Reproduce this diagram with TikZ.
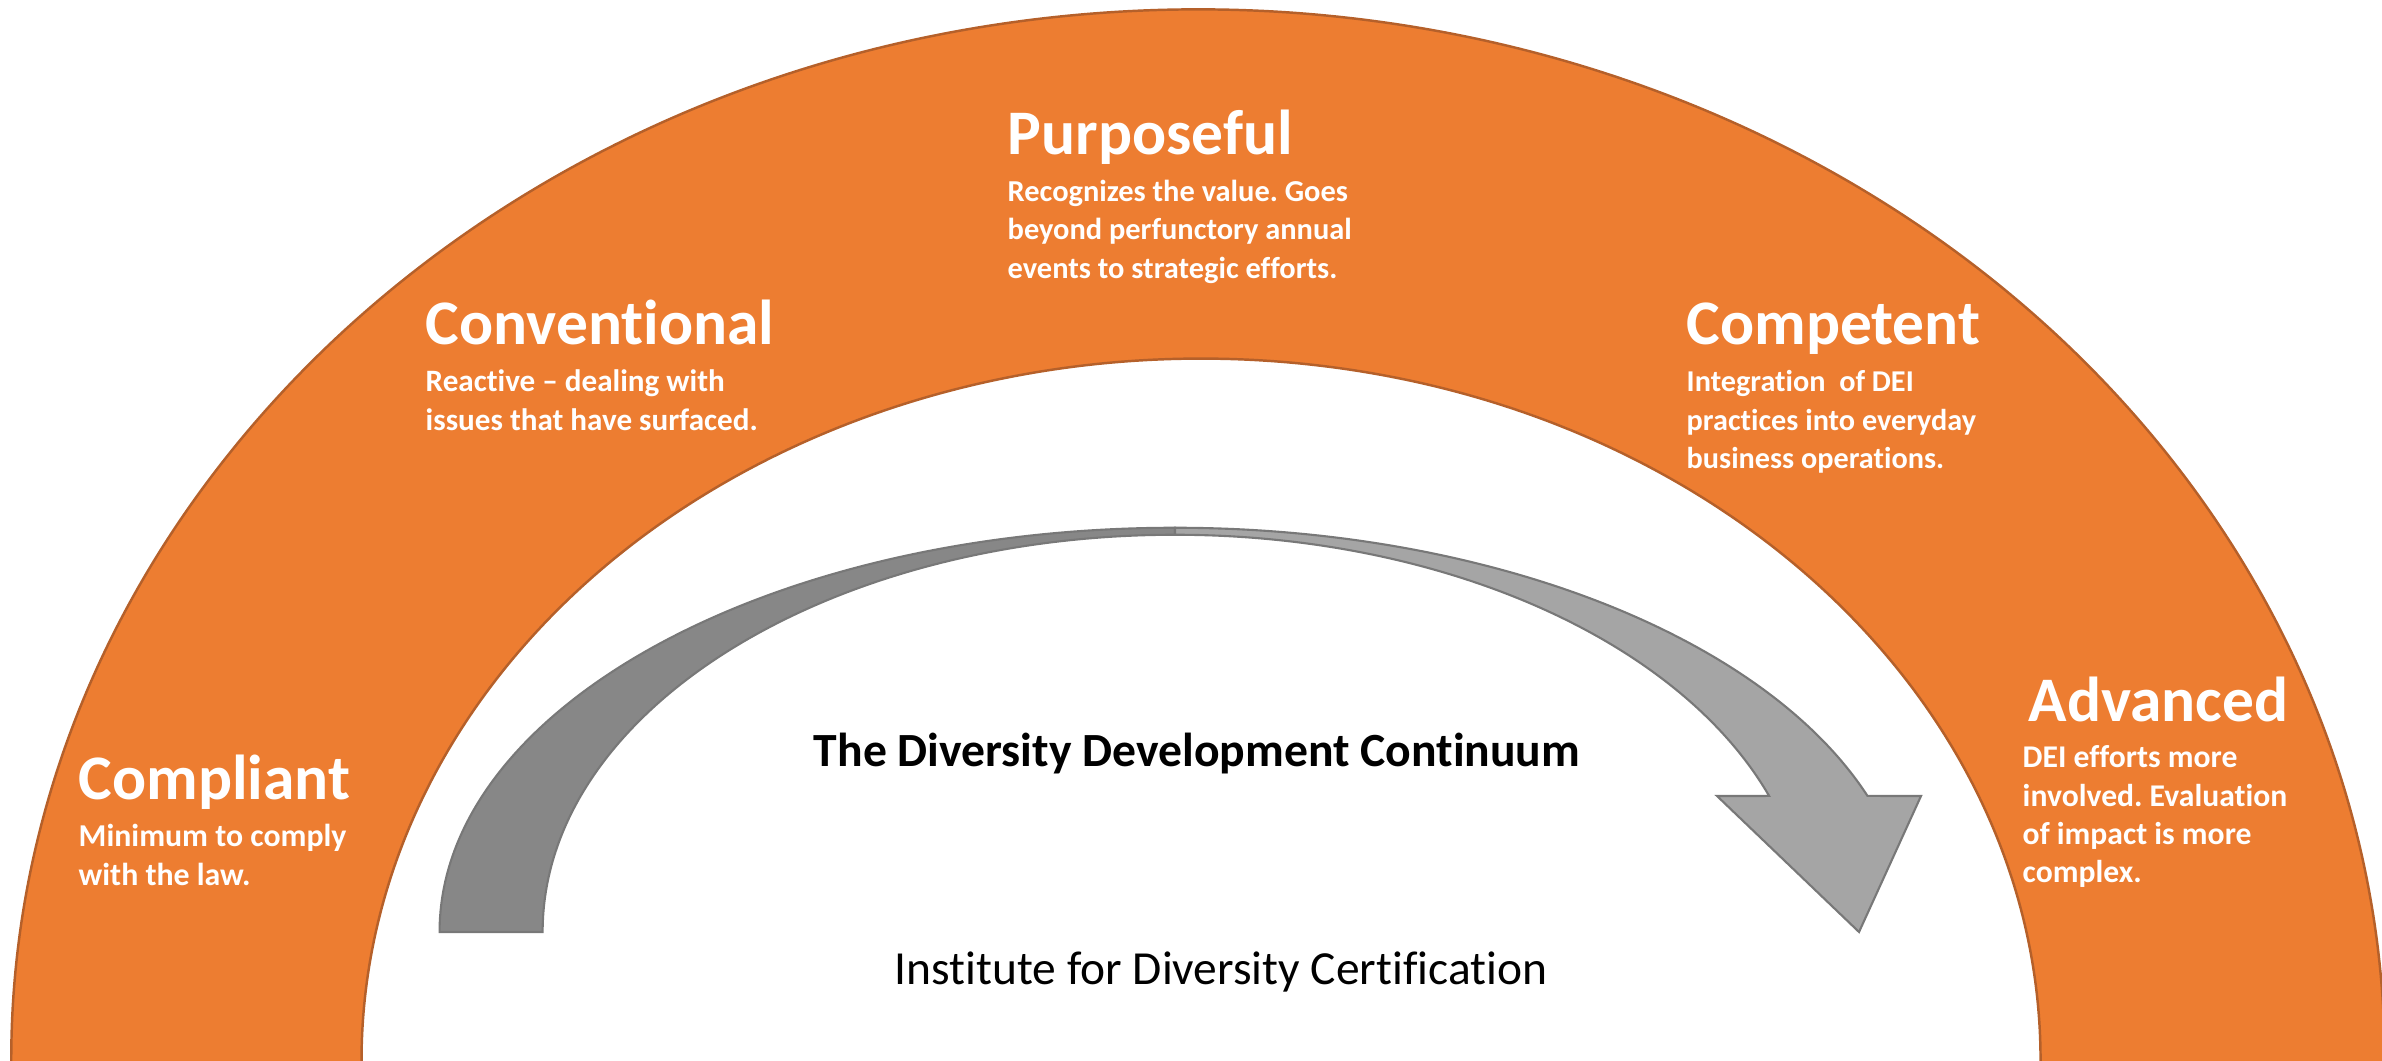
\documentclass[tikz,border=0pt]{standalone}
\usepackage{fontspec}
\setmainfont{Carlito}[Ligatures={NoCommon}]
\usetikzlibrary{calc}
\frenchspacing

\definecolor{bandorange}{HTML}{ED7D31}
\definecolor{bandedge}{HTML}{B5602A}
\definecolor{arrowdark}{HTML}{878787}
\definecolor{arrowlight}{HTML}{A5A5A5}
\definecolor{arrowedge}{HTML}{787878}

\begin{document}
\begin{tikzpicture}[x=0.01cm,y=0.01cm,
  band/.style={fill=bandorange,draw=bandedge,line width=0.7pt},
  arrowback/.style={fill=arrowdark,draw=arrowedge,line width=0.6pt,line join=miter},
  arrowfront/.style={fill=arrowlight,draw=arrowedge,line width=0.6pt,line join=miter},
  stagetitle/.style={text=white,inner sep=0pt,anchor=base west,
    font=\bfseries\fontsize{18.05}{22}\selectfont},
  stagetext/.style={text=white,inner sep=0pt,anchor=base west,
    font=\bfseries\fontsize{#1}{10.81}\selectfont},
  stagetext/.default=8.65,
  heading/.style={text=black,inner sep=0pt,anchor=base,
    font=\bfseries\fontsize{13.55}{16}\selectfont},
  credit/.style={text=black,inner sep=0pt,anchor=base,
    font=\fontsize{13.5}{16}\selectfont}]

\useasboundingbox (0,0) rectangle (2382,1061);
\clip (0,0) rectangle (2382,1061);

% orange elliptic ring, carried slightly below the lower frame edge
\draw[band] (1198,0) ++(185:11.86cm and 10.51cm)
  arc[start angle=185,end angle=-5,x radius=11.86cm,y radius=10.51cm]
  -- ($(1201,0)+(-5:8.39cm and 7.02cm)$)
  arc[start angle=-5,end angle=185,x radius=8.39cm,y radius=7.02cm]
  -- cycle;

% curved arrow: rising back part
\draw[arrowback] (1175,129) ++(180:7.35cm and 4.04cm)
  arc[start angle=180,end angle=90,x radius=7.35cm,y radius=4.04cm]
  -- ($(1175,129)+(90:6.32cm and 3.97cm)$)
  arc[start angle=90,end angle=180,x radius=6.32cm,y radius=3.97cm]
  -- cycle;

% curved arrow: descending front part with the head
\draw[arrowfront] (1175,129) ++(90:7.35cm and 4.04cm)
  arc[start angle=90,end angle=19.67,x radius=7.35cm,y radius=4.04cm]
  -- (1921,265) -- (1859,129) -- (1717,265)
  -- ($(1175,129)+(20.03:6.32cm and 3.97cm)$)
  arc[start angle=20.03,end angle=90,x radius=6.32cm,y radius=3.97cm]
  -- cycle;

% stages along the ring
\node[stagetitle] (compliant) at (78,261) {Compliant};
\node[stagetext=9.05] (compliantText) at (78,214)
  {\vtop{\hbox{Minimum to comply}\hbox{with the law.}}};

\node[stagetitle] (conventional) at (425,716) {Conventional};
\node[stagetext=8.85] (conventionalText) at (425,669)
  {\vtop{\hbox{Reactive – dealing with}\hbox{issues that have surfaced.}}};

\node[stagetitle] (purposeful) at (1007,906) {Purposeful};
\node[stagetext] (purposefulText) at (1007,859)
  {\vtop{\hbox{Recognizes the value. Goes}\hbox{beyond perfunctory annual}\hbox{events to strategic efforts.}}};

\node[stagetitle] (competent) at (1686,716) {Competent};
\node[stagetext=8.6] (competentText) at (1686,669)
  {\vtop{\hbox{Integration \ of DEI}\hbox{practices into everyday}\hbox{business operations.}}};

\node[stagetitle] (advanced) at (2028,339) {Advanced};
\node[stagetext=9.0] (advancedText) at (2022,293)
  {\vtop{\hbox{DEI efforts more}\hbox{involved. Evaluation}\hbox{of impact is more}\hbox{complex.}}};

% captions inside the ring
\node[heading] (continuum) at (1197,294) {The Diversity Development Continuum};
\node[credit] (institute) at (1221,76) {Institute for Diversity Certification};

\end{tikzpicture}
\end{document}
